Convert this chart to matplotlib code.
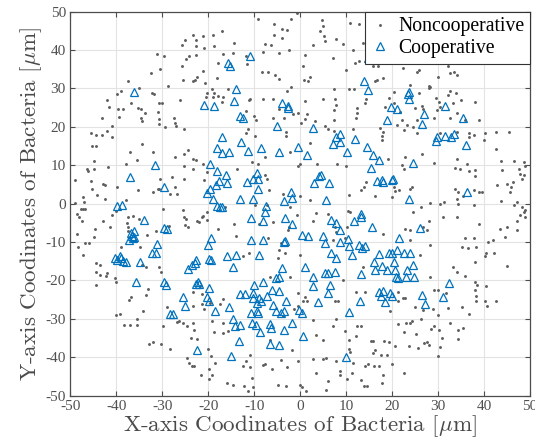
import matplotlib.pyplot as plt
import numpy as np

plt.rcParams['font.family'] = ['Liberation Serif', 'DejaVu Serif']
plt.rcParams['mathtext.fontset'] = 'cm'
plt.rcParams['axes.unicode_minus'] = False

# Noncooperative bacteria (x, y) in um
noncoop_pts = [
    # upper left
    (-23.3, 43.9), (-21.2, 43.5), (-25.0, 42.6), (-25.7, 41.3), (-22.6, 42.6), (-22.6, 41.0),
    (-19.0, 44.0), (-18.7, 41.0), (-20.9, 40.4), (-24.1, 38.3), (-24.8, 37.6), (-22.7, 38.7),
    (-25.7, 35.7), (-21.2, 34.6), (-25.4, 32.3), (-22.8, 32.3), (-22.5, 33.0), (-23.2, 31.9),
    (-20.7, 31.5), (-17.9, 36.7), (-18.0, 32.6), (-31.2, 39.0), (-29.6, 38.4), (-30.4, 35.0),
    (-32.5, 34.1), (-28.8, 30.6), (-37.5, 31.8), (-38.9, 29.2), (-39.9, 28.6), (-32.2, 28.9),
    (-31.7, 28.5), (-35.0, 30.2), (-36.7, 26.1), (-35.2, 25.0), (-34.6, 24.7), (-33.7, 23.7),
    (-34.5, 22.2), (-34.3, 21.6), (-31.0, 23.9), (-30.6, 26.1), (-30.0, 26.1), (-30.7, 21.9),
    (-30.7, 20.7), (-29.3, 20.0), (-27.5, 22.2), (-27.3, 20.9), (-27.0, 20.2), (-26.1, 27.0),
    (-25.2, 19.3), (-41.9, 27.0), (-41.6, 25.2), (-39.5, 24.5), (-38.6, 24.5), (-39.4, 22.6),
    (-43.1, 22.3), (-40.9, 20.3), (-41.9, 19.0), (-45.4, 18.3), (-44.3, 17.8), (-43.1, 17.9),
    (-40.8, 17.4), (-20.2, 28.9), (-20.5, 27.8), (-19.1, 29.7), (-18.8, 28.9), (-19.0, 27.8),
    (-17.8, 28.1),
    # upper middle
    (-0.7, 49.6), (-9.1, 48.0), (-5.7, 46.7), (-1.9, 48.0), (-3.9, 45.5), (-2.8, 45.2),
    (-5.7, 44.0), (-3.9, 43.0), (-7.7, 41.5), (-6.4, 41.2), (-2.5, 40.0), (-8.0, 39.4),
    (-4.5, 39.1), (-8.2, 34.3), (-7.0, 34.3), (-5.4, 33.6), (-4.6, 32.5), (-1.9, 30.3),
    (-2.8, 29.4), (-8.0, 27.3), (-5.9, 27.3), (-4.6, 24.6), (-3.4, 22.2), (-5.9, 22.4),
    (-1.6, 23.3), (-10.1, 22.9), (-11.8, 24.2), (-11.2, 27.0), (-10.9, 27.3), (-11.4, 19.3),
    (-11.7, 18.4), (-9.5, 21.7), (-17.0, 44.8), (-14.3, 41.7), (-16.7, 39.0), (-14.7, 39.1),
    (-15.7, 29.7), (-16.7, 27.7), (-17.0, 26.5), (-11.8, 38.3), (-11.6, 36.3), (1.0, 38.7),
    (0.7, 35.8), (0.9, 32.1), (1.8, 31.8), (2.1, 32.9), (1.1, 26.7), (1.4, 23.3),
    (1.0, 22.0), (3.3, 21.6), (0.2, 21.0), (4.7, 47.8), (5.0, 46.3), (4.3, 45.0),
    (5.2, 43.5), (5.3, 42.3), (2.8, 41.2), (7.8, 42.9), (9.4, 41.6), (11.4, 40.0),
    (7.1, 38.0), (9.9, 34.8), (12.0, 36.5), (12.8, 37.2), (10.9, 47.1), (12.8, 46.7),
    (13.6, 41.9), (10.7, 29.7), (11.8, 29.7), (7.4, 29.9), (5.0, 27.2), (7.5, 27.1),
    (7.9, 25.7), (7.3, 24.3), (12.3, 25.0), (12.4, 23.7), (14.1, 26.1), (14.4, 27.3),
    (12.2, 22.2), (7.3, 21.7), (5.4, 20.2), (6.1, 19.3), (7.4, 18.9), (11.5, 19.3),
    (-3.0, 18.7), (-3.0, 17.6), (-9.8, 17.6), (-0.4, 23.5),
    # upper right
    (15.9, 35.7), (16.9, 35.9), (18.0, 32.6), (16.7, 32.3), (16.2, 31.9), (22.3, 35.2),
    (25.4, 34.3), (25.9, 34.8), (32.2, 35.7), (32.6, 34.1), (33.5, 34.3), (34.1, 33.5),
    (29.9, 32.9), (28.0, 30.6), (28.3, 30.3), (23.9, 30.9), (20.3, 29.1), (19.3, 27.4),
    (20.3, 26.1), (18.5, 25.2), (22.1, 21.7), (21.7, 23.9), (28.1, 30.0), (25.9, 28.7),
    (26.4, 25.4), (25.0, 24.8), (26.8, 24.6), (25.5, 21.7), (32.5, 29.4), (33.8, 28.9),
    (32.2, 28.3), (34.9, 27.0), (38.0, 26.5), (29.6, 27.4), (30.2, 26.5), (33.3, 26.1),
    (30.4, 25.2), (29.7, 24.3), (29.1, 22.2), (32.5, 22.4), (34.1, 23.5), (35.9, 21.7),
    (38.8, 21.7), (45.3, 18.7), (42.6, 18.7), (40.2, 18.3), (37.7, 17.8), (36.6, 18.3),
    (36.6, 17.4), (34.1, 18.7), (30.4, 18.3), (23.2, 20.4), (22.5, 19.1), (24.6, 20.0),
    (25.4, 18.4), (21.0, 20.4), (17.8, 17.6), (18.1, 18.7), (17.4, 19.6),
    # middle left
    (-45.2, 14.9), (-44.3, 14.9), (-44.9, 11.2), (-46.4, 8.9), (-46.2, 8.4), (-44.8, 8.9),
    (-48.9, 6.1), (-45.5, 5.9), (-45.3, 3.9), (-42.8, 5.2), (-42.4, 4.8), (-41.7, 9.4),
    (-42.4, 1.3), (-44.1, 2.2), (-48.9, 0.2), (-47.2, 1.6), (-47.0, 0.5), (-47.7, -1.3),
    (-47.2, -1.3), (-46.7, -1.3), (-48.6, -2.7), (-48.0, -3.6), (-47.5, -4.5), (-44.6, -6.5),
    (-42.9, -4.5), (-41.3, -6.2), (-40.8, -3.1), (-40.0, -1.9), (-37.9, 0.8), (-39.9, 4.3),
    (-37.8, 10.3), (-37.0, 13.5), (-34.4, 15.5), (-35.5, 11.3), (-35.3, 3.5), (-32.0, 13.5),
    (-31.9, 3.1), (-31.0, 3.9), (-30.7, 3.9), (-30.4, 6.4), (-28.3, 2.4), (-27.9, 6.9),
    (-27.3, 4.4), (-27.2, 12.2), (-25.2, 13.0), (-24.3, 13.9), (-23.2, 11.5), (-22.6, 11.3),
    (-25.2, 9.7), (-25.2, 6.5), (-23.3, 8.9), (-20.9, 6.1), (-21.2, 10.4), (-26.8, 2.6),
    (-20.3, 8.3), (-20.2, -2.1), (-20.3, -4.3), (-21.9, -4.7), (-25.2, -3.6), (-24.8, -3.9),
    (-22.5, -4.5), (-24.3, -6.0), (-25.1, -5.6), (-25.5, -1.7), (-29.9, -1.4), (-36.4, -3.2),
    (-35.1, -3.9), (-37.6, -5.0), (-37.4, -6.0), (-37.5, -7.1), (-39.0, -11.2), (-37.5, -3.6),
    (-33.3, -8.2), (-31.3, -7.1), (-28.5, -5.8), (-34.8, -11.2), (-44.9, -8.8), (-45.8, -10.3),
    (-46.7, -10.2), (-48.6, -7.9), (-48.2, -11.2), (-47.2, -13.5), (-44.3, -15.5), (-43.5, -16.0),
    (-34.4, -16.0), (-33.5, -16.6), (-30.7, -16.6), (-21.2, -3.2), (-21.4, -3.6),
    # centre
    (2.1, 15.8), (-2.2, 13.5), (-7.7, 12.2), (-10.4, 10.9), (-9.1, 10.2), (-13.7, 8.9),
    (-0.1, 10.2), (-0.4, 9.8), (3.7, 10.2), (8.0, 10.4), (9.9, 9.7), (-7.7, 7.4),
    (-7.2, 6.3), (-6.7, 3.5), (-3.8, 2.5), (-0.1, 1.9), (2.2, 0.9), (-2.1, -0.8),
    (-7.1, -0.4), (-9.9, -0.4), (-16.4, -1.0), (-14.4, -5.4), (-17.8, -6.5), (-14.0, -8.4),
    (-7.0, -9.0), (-8.9, -5.2), (-6.0, -4.7), (-2.6, -6.9), (-2.4, -6.0), (-0.7, -3.0),
    (3.4, -2.4), (6.1, -2.6), (2.7, -4.5), (7.5, -6.0), (7.8, -7.3), (10.2, -6.0),
    (10.8, -2.1), (10.3, -1.9), (10.7, 2.2), (13.3, 3.5), (13.9, 4.2), (14.3, 5.7),
    (9.7, -9.0), (7.2, -9.5), (-4.1, -10.3), (-12.4, -13.6), (-11.2, -12.9), (-4.6, -12.1),
    (-4.8, -14.1), (-3.3, -12.9), (-0.1, -13.4), (13.7, -16.4),
    # middle right
    (17.8, 16.5), (26.4, 12.9), (22.8, 12.2), (22.1, 10.0), (22.6, 9.1), (29.0, 10.6),
    (34.1, 11.7), (36.2, 10.4), (33.6, 9.2), (34.8, 9.1), (36.6, 8.5), (38.0, 8.7),
    (37.9, 7.1), (42.6, 14.3), (40.0, 16.5), (43.7, 11.1), (46.4, 11.1), (48.6, 10.9),
    (48.9, 9.7), (47.5, 9.1), (47.8, 7.8), (48.6, 7.4), (43.8, 8.7), (48.2, 6.5),
    (46.2, 5.7), (44.9, 5.2), (42.8, 4.8), (45.8, 4.4), (45.7, 3.1), (37.7, 3.5),
    (38.8, 3.1), (39.5, 3.1), (33.7, 3.9), (34.4, 3.1), (34.1, 1.3), (35.5, 1.9),
    (31.2, 0.5), (30.3, -0.1), (28.3, 0.2), (26.3, -0.8), (24.5, -2.1), (19.9, 1.8),
    (16.3, 1.9), (19.2, 11.7), (20.3, 4.4), (21.4, 3.5), (20.7, 3.3), (23.9, 3.9),
    (24.3, 4.2), (34.4, 0.0), (37.7, -0.4), (43.6, 0.7), (46.4, -0.4), (47.1, 0.5),
    (48.2, -0.8), (48.6, -2.1), (48.9, -1.7), (47.8, -3.0), (48.9, -3.6), (47.1, -4.5),
    (31.0, -3.6), (34.1, -3.6), (27.9, -4.5), (26.8, -6.0), (23.9, -6.9), (22.8, -6.7),
    (27.5, -6.9), (18.0, -7.9), (28.3, -10.8), (23.9, -9.5), (38.8, -5.3), (43.5, -6.7),
    (44.9, -6.0), (47.2, -6.9), (44.6, -8.8), (42.0, -9.5), (40.9, -10.1), (35.9, -9.0),
    (37.7, -9.0), (35.1, -11.2), (36.4, -11.6), (38.3, -11.2), (40.4, -12.8), (40.2, -13.6),
    (42.2, -12.9), (38.0, -15.1), (33.3, -16.4), (44.9, -16.2), (26.1, -13.4),
    # lower left
    (-44.3, -17.8), (-43.6, -18.5), (-44.3, -21.3), (-42.0, -18.1), (-42.2, -18.8), (-40.2, -19.4),
    (-40.0, -20.4), (-36.8, -24.4), (-37.3, -25.1), (-33.0, -22.3), (-33.5, -23.8), (-34.1, -27.9),
    (-35.4, -30.1), (-35.4, -31.6), (-40.0, -29.0), (-39.1, -28.8), (-38.2, -31.6), (-37.0, -31.6),
    (-32.8, -36.5), (-31.9, -36.1), (-30.2, -36.6), (-28.3, -37.9), (-29.9, -32.0), (-29.0, -27.0),
    (-26.8, -30.9), (-26.3, -30.7), (-25.4, -31.0), (-24.6, -31.9), (-23.2, -31.2), (-23.0, -32.9),
    (-23.8, -35.1), (-22.5, -35.2), (-24.5, -40.3), (-24.1, -41.6), (-23.6, -42.2), (-23.0, -42.4),
    (-21.6, -44.6), (-20.1, -37.9), (-19.4, -39.6), (-19.8, -43.1), (-19.2, -44.6), (-19.8, -45.6),
    (-18.6, -41.4), (-18.7, -33.4), (-21.7, -21.4), (-21.4, -23.6), (-23.2, -22.9), (-23.2, -26.8),
    (-21.4, -26.2), (-20.8, -27.5), (-19.6, -25.9), (-17.5, -26.2), (-30.2, -17.9),
    # lower middle
    (-2.2, -19.2), (-6.6, -19.0), (-0.4, -23.2), (1.0, -24.2), (1.4, -25.5), (0.7, -25.5),
    (-0.4, -26.8), (-1.4, -27.5), (-16.7, -24.9), (-16.7, -31.2), (-16.7, -33.6), (-19.1, -30.7),
    (-3.7, -29.4), (-6.6, -35.5), (-1.7, -38.1), (-4.1, -40.7), (-2.8, -42.6), (-4.8, -47.2),
    (-3.0, -47.5), (-8.0, -42.0), (-7.7, -41.7), (-6.2, -43.1), (-10.9, -39.4), (-11.7, -41.1),
    (-10.8, -42.6), (-12.4, -42.4), (-10.5, -45.5), (-10.2, -47.8), (-11.3, -48.7), (-12.2, -47.5),
    (-14.7, -47.2), (-16.0, -46.6), (-0.1, -47.2), (0.5, -47.8), (1.2, -48.7), (-0.4, -41.1),
    (2.7, -40.5), (3.4, -44.0), (5.0, -40.5), (5.6, -40.3), (7.8, -41.1), (6.1, -46.1),
    (5.7, -48.5), (8.6, -43.7), (8.7, -44.6), (10.1, -45.7), (11.2, -44.2), (11.5, -41.6),
    (10.7, -37.9), (10.8, -38.6), (13.3, -45.9), (13.9, -47.6), (14.6, -47.6), (14.1, -42.3),
    (7.9, -30.1), (7.2, -32.0), (9.7, -33.3), (10.7, -35.5), (12.4, -31.9), (13.3, -32.0),
    (2.8, -30.3), (3.4, -34.2), (5.0, -35.5), (9.3, -19.9), (12.2, -22.9), (14.1, -22.9),
    (7.5, -25.5), (8.2, -25.5), (12.2, -34.5), (-15.7, -33.1),
    # lower right
    (28.3, -19.2), (34.1, -17.7), (35.9, -18.8), (38.0, -20.3), (38.4, -21.2), (40.4, -21.4),
    (38.0, -22.6), (38.2, -24.0), (38.2, -25.3), (40.2, -25.3), (40.6, -26.6), (42.6, -25.5),
    (36.8, -28.7), (35.1, -27.0), (32.2, -27.1), (29.9, -29.0), (29.0, -22.6), (29.9, -22.6),
    (31.7, -23.2), (28.8, -27.4), (26.7, -27.6), (25.0, -27.0), (22.7, -24.5), (22.3, -24.6),
    (21.2, -25.5), (19.6, -28.1), (26.2, -30.1), (24.3, -30.6), (23.8, -31.0), (23.0, -31.2),
    (21.2, -31.3), (22.5, -33.5), (25.2, -33.9), (28.4, -32.7), (29.1, -31.9), (30.1, -32.9),
    (30.9, -35.0), (32.5, -31.2), (34.3, -32.9), (35.4, -32.4), (34.3, -35.2), (27.0, -36.2),
    (27.5, -36.0), (28.1, -36.8), (25.7, -37.7), (30.4, -37.4), (29.9, -39.8), (23.6, -37.2),
    (20.7, -37.1), (18.3, -35.7), (19.4, -36.1), (16.3, -38.1), (15.9, -39.0), (17.6, -39.4),
    (18.9, -39.4), (15.9, -35.9), (15.5, -35.9), (14.7, -41.7), (16.1, -42.4), (17.2, -42.4),
    (19.9, -41.8), (18.0, -44.6), (17.8, -46.8), (22.5, -44.0), (21.2, -23.1),
]

# Cooperative bacteria (x, y) in um
coop_pts = [
    (-11.0, 38.4), (-15.6, 36.6), (-15.2, 35.8), (14.7, 37.9), (13.8, 31.8), (14.8, 29.5),
    (-36.2, 29.0), (-14.0, 29.9), (-14.4, 26.6), (-20.9, 25.7), (-18.7, 25.5), (-4.0, 26.3),
    (-2.7, 25.5), (-2.7, 24.9), (23.4, 28.4), (23.6, 29.1), (23.7, 27.3), (19.8, 25.1),
    (21.0, 24.6), (26.9, 23.4), (31.5, 25.4), (35.4, 22.3), (18.9, 21.7), (26.4, 20.7),
    (-13.0, 22.7), (-12.4, 22.3), (-5.0, 20.3), (2.9, 19.7), (-16.9, 17.4), (-12.8, 16.0),
    (-18.1, 14.4), (-15.4, 13.5), (-16.9, 13.2), (-11.3, 13.8), (-8.4, 14.4), (-4.7, 13.5),
    (-0.5, 14.7), (1.6, 12.6), (10.2, 13.4), (11.9, 16.8), (7.2, 15.6), (8.7, 16.1),
    (7.8, 17.2), (8.7, 18.1), (14.6, 14.7), (15.8, 12.6), (17.1, 11.4), (15.5, 9.3),
    (24.6, 10.6), (29.5, 16.3), (29.7, 17.3), (31.5, 17.7), (32.8, 17.3), (33.5, 18.1),
    (36.1, 15.3), (36.2, 3.1), (23.7, 1.1), (20.0, 6.2), (20.2, 6.4), (18.1, 5.6),
    (17.8, 6.1), (16.7, 5.9), (-31.5, 10.0), (-36.9, 6.9), (-29.6, 4.3), (-39.8, -0.7),
    (-38.8, -0.5), (-33.9, -4.3), (-19.5, 10.4), (-18.0, 8.6), (-16.2, 7.4), (-15.8, 5.4),
    (-17.7, 6.0), (-18.3, 4.9), (-19.5, 3.8), (-20.2, 2.7), (-19.0, 1.2), (-18.1, -0.6),
    (-17.5, -0.8), (-16.9, -0.9), (-13.0, 1.2), (-10.2, 1.2), (-9.3, 8.0), (-9.1, 6.3),
    (-10.3, 6.3), (-11.6, 5.6), (-9.1, 3.9), (-7.5, -0.7), (-7.7, -2.1), (-8.1, -4.5),
    (-10.6, -3.8), (-3.5, 0.7), (-1.7, 1.5), (-1.9, 3.1), (-3.2, -3.8), (-1.8, -5.3),
    (3.1, 5.4), (4.2, 7.1), (4.6, 7.4), (6.2, 5.4), (5.6, 1.0), (6.7, -4.4),
    (7.9, -5.0), (8.7, -6.8), (11.6, -4.6), (13.2, -2.8), (13.3, -3.5), (15.6, -6.2),
    (26.1, -6.3), (5.0, -8.4), (5.5, -10.3), (0.4, -8.1), (1.7, -8.5), (10.4, -9.1),
    (8.7, -9.9), (10.6, -11.1), (12.7, -10.9), (13.4, -11.7), (14.1, -11.1), (11.3, -13.5),
    (17.2, -13.2), (16.1, -15.2), (16.3, -17.2), (17.8, -16.3), (18.8, -17.2), (19.3, -13.0),
    (21.4, -8.9), (21.0, -12.0), (20.0, -13.0), (22.6, -12.8), (23.9, -13.0), (20.4, -15.3),
    (24.5, -16.1), (23.3, -17.2), (20.6, -17.2), (20.8, -19.2), (23.1, -19.1), (24.8, -19.1),
    (21.2, -19.3), (32.4, -20.6), (31.1, -24.4), (26.4, -23.9), (27.1, -26.1), (17.1, -23.1),
    (17.5, -24.1), (18.1, -22.8), (19.6, -23.3), (20.0, -24.0), (18.5, -25.7), (13.0, -25.5),
    (10.6, -28.2), (10.0, -39.9), (13.2, -18.3), (7.9, -14.3), (6.7, -12.8), (7.5, -17.9),
    (6.1, -18.2), (5.4, -18.1), (6.4, -21.3), (6.0, -23.3), (2.9, -19.0), (2.8, -21.4),
    (3.8, -25.7), (1.0, -16.5), (-0.2, -27.8), (0.4, -28.5), (0.6, -34.5), (-1.8, -31.2),
    (-3.0, -25.5), (-3.5, -28.0), (-3.5, -32.9), (-4.2, -28.5), (-4.7, -22.7), (-4.7, -19.1),
    (-5.3, -19.3), (-3.9, -16.8), (-3.6, -9.9), (-3.2, -9.7), (-5.9, -26.4), (-5.2, -28.0),
    (-6.1, -22.4), (-6.5, -31.3), (-6.6, -36.6), (-4.7, -36.7), (-6.3, -32.4), (-8.0, -20.4),
    (-7.3, -24.0), (-8.1, -9.4), (-9.0, -13.3), (-10.6, -9.4), (-10.0, -21.3), (-10.2, -23.3),
    (-10.2, -24.6), (-9.4, -25.9), (-8.9, -24.5), (-8.5, -25.3), (-9.4, -28.0), (-9.1, -28.6),
    (-10.7, -28.6), (-10.4, -31.1), (-9.6, -31.5), (-8.8, -33.5), (-13.0, -31.7), (-14.2, -31.8),
    (-14.7, -30.0), (-13.2, -35.8), (-15.0, -39.8), (-15.5, -26.9), (-13.0, -23.6), (-12.0, -23.6),
    (-14.5, -16.6), (-15.8, -13.7), (-14.0, -13.4), (-19.8, -22.0), (-20.3, -24.3), (-19.8, -25.4),
    (-18.5, -28.1), (-22.4, -38.2), (-25.0, -26.6), (-25.5, -24.4), (-22.2, -20.4), (-22.6, -20.9),
    (-22.0, -21.0), (-22.6, -14.8), (-22.9, -15.5), (-23.4, -16.1), (-24.4, -17.0), (-20.0, -10.9),
    (-19.3, -8.9), (-19.8, -14.4), (-19.4, -14.8), (-28.3, -28.8), (-27.7, -28.8), (-29.5, -20.5),
    (-29.2, -21.2), (-29.6, -6.3), (-28.9, -6.6), (-31.1, -10.6), (-32.1, -13.0), (-31.4, -13.0),
    (-35.6, -20.4), (-34.9, -15.2), (-36.2, -7.2), (-36.8, -7.7), (-36.6, -8.5), (-37.1, -9.5),
    (-36.4, -9.0), (-36.0, -8.6), (-40.3, -14.2), (-39.2, -13.7), (-38.9, -14.2), (-38.4, -15.0),
    (-37.9, -15.3), (-39.8, -14.6),
]

x_ticks = np.arange(-50, 51, 10)
y_ticks = np.arange(-50, 51, 10)

nx, ny = np.array(noncoop_pts).T
cx, cy = np.array(coop_pts).T

fig = plt.figure(figsize=(5.35, 4.43), dpi=100)
ax = fig.add_axes([0.131, 0.107, 0.860, 0.867])

ax.plot(nx, ny, 'o', color='#5e5e5e', markersize=2.1, markeredgewidth=0,
        label='Noncooperative')
ax.plot(cx, cy, '^', markerfacecolor='none', markeredgecolor='#0072BD',
        markersize=5.5, markeredgewidth=0.9, linestyle='none', label='Cooperative')

ax.set_xlim(-50, 50)
ax.set_ylim(-50, 50)
ax.set_xticks(x_ticks)
ax.set_yticks(y_ticks)
ax.grid(True, color='#e3e3e3', linewidth=0.8)
ax.set_axisbelow(True)
ax.tick_params(direction='in', top=True, right=True, length=3.5, width=0.8,
               color='#4d4d4d', labelcolor='#505050', labelsize=11, pad=3)
for s in ax.spines.values():
    s.set_color('#4d4d4d')
    s.set_linewidth(0.9)

# axis labels in a LaTeX-like face
ax.set_xlabel('X-axis Coodinates of Bacteria [$\\mu$m]', fontsize=16.6,
              family='cmr10', color='#4a4a4a', labelpad=0)
ax.set_ylabel('Y-axis Coodinates of Bacteria [$\\mu$m]', fontsize=16.6,
              family='cmr10', color='#4a4a4a', labelpad=1)

leg = ax.legend(loc='upper right', fontsize=14.2, borderaxespad=0, fancybox=False,
                framealpha=1, edgecolor='#333333', handlelength=1.0,
                handletextpad=0.4, borderpad=0.3, labelspacing=0.15,
                markerscale=1.0)
leg.get_frame().set_linewidth(0.8)

plt.savefig('out.png', dpi=100)
